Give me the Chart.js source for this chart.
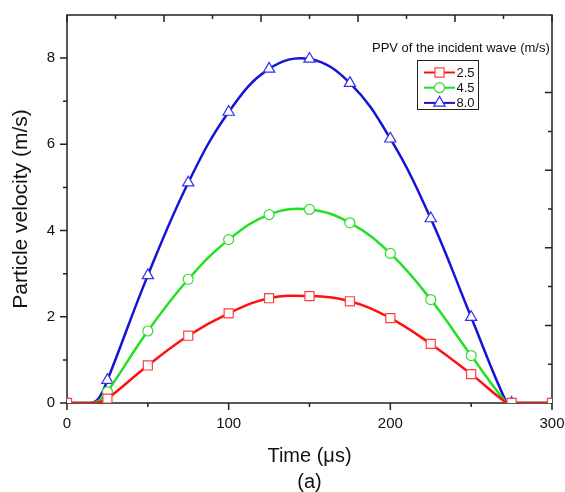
<!DOCTYPE html>
<html>
<head>
<meta charset="utf-8">
<script src="https://cdn.jsdelivr.net/npm/chart.js@4.4.1/dist/chart.umd.min.js"></script>
<style>
  html, body { margin: 0; padding: 0; background: #fff; }
</style>
</head>
<body>
<canvas id="chart" width="565" height="492"></canvas>
<script>
// time in microseconds; markers sit on the multiples of 25
var time   = [0, 15, 20, 25, 50, 75, 100, 125, 150, 175, 200, 225, 250, 272, 275, 300];
var ppv25  = [0, 0, 0.02, 0.10, 0.87, 1.56, 2.08, 2.43, 2.48, 2.36, 1.97, 1.37, 0.67, 0, 0, 0];
var ppv45  = [0, 0, 0.06, 0.26, 1.67, 2.87, 3.79, 4.37, 4.49, 4.18, 3.47, 2.40, 1.10, 0, 0, 0];
var ppv80  = [0, 0, 0.13, 0.53, 2.96, 5.11, 6.75, 7.75, 7.98, 7.42, 6.13, 4.28, 1.99, 0, 0, 0];
var seriesLabels = ['2.5', '4.5', '8.0'];
var legendTitle = 'PPV of the incident wave (m/s)';

// tick mark positions on the four sides of the frame
var bottomMarks = [0, 50, 100, 150, 200, 250, 300];
var leftMarks   = [0, 1, 2, 3, 4, 5, 6, 7, 8];
var topMarks    = [0, 30, 60, 90, 120, 150, 180, 210, 240, 270, 300];
var rightMarks  = [1, 2, 3, 4, 5, 6, 7, 8];

var FONT = '"Liberation Sans", Arial, Helvetica, sans-serif';
Chart.defaults.font.family = FONT;
Chart.defaults.color = '#111';

function makeSeries(label, values, lineColor, markColor, style, radius) {
  return {
    label: label,
    data: time.map(function (t, i) { return { x: t, y: values[i] }; }),
    borderColor: lineColor,
    borderWidth: 2.5,
    tension: 0.4,
    pointStyle: style,
    pointBackgroundColor: '#fff',
    pointBorderColor: markColor,
    pointBorderWidth: 1.2,
    pointRadius: function (c) {
      return c.raw && c.raw.x % 25 === 0 ? radius : 0;
    },
    pointHoverRadius: 0,
    markRadius: radius
  };
}

// keep the plot box fixed: no extra room for overhanging end labels
function noOverhang(s) {
  s.paddingLeft = 0; s.paddingRight = 0;
  s.paddingTop = 0; s.paddingBottom = 0;
}

var framePlugin = {
  id: 'frame',
  beforeDatasetsDraw: function (chart) {
    var ctx = chart.ctx, a = chart.chartArea, s = chart.scales;
    ctx.save();
    ctx.strokeStyle = '#222';
    ctx.lineWidth = 1.5;
    ctx.strokeRect(a.left, a.top, a.right - a.left, a.bottom - a.top);
    ctx.beginPath();
    bottomMarks.forEach(function (v) {
      var x = s.x.getPixelForValue(v);
      var len = v % 100 === 0 ? 7 : 4;
      ctx.moveTo(x, a.bottom); ctx.lineTo(x, a.bottom + len);
    });
    leftMarks.forEach(function (v) {
      var y = s.y.getPixelForValue(v);
      var len = v % 2 === 0 ? 7 : 4;
      ctx.moveTo(a.left, y); ctx.lineTo(a.left - len, y);
    });
    topMarks.forEach(function (v) {
      var x = s.xTop.getPixelForValue(v);
      var len = v % 60 === 0 ? 7 : 4;
      ctx.moveTo(x, a.top); ctx.lineTo(x, a.top + len);
    });
    rightMarks.forEach(function (v) {
      var y = s.yRight.getPixelForValue(v);
      var len = v % 2 === 0 ? 7 : 4;
      ctx.moveTo(a.right, y); ctx.lineTo(a.right - len, y);
    });
    ctx.stroke();
    ctx.restore();
  }
};

var legendPlugin = {
  id: 'boxLegend',
  afterDraw: function (chart) {
    var ctx = chart.ctx;
    ctx.save();
    ctx.font = '13px ' + FONT;
    ctx.fillStyle = '#111';
    ctx.textBaseline = 'alphabetic';
    ctx.fillText(legendTitle, 372, 52);
    ctx.strokeStyle = '#222';
    ctx.lineWidth = 1;
    ctx.strokeRect(417.5, 60.5, 61, 49);
    chart.data.datasets.forEach(function (ds, i) {
      var y = 72.5 + i * 15.2;
      ctx.strokeStyle = ds.borderColor;
      ctx.lineWidth = 2;
      ctx.beginPath();
      ctx.moveTo(424, y);
      ctx.lineTo(455, y);
      ctx.stroke();
      ctx.fillStyle = '#fff';
      ctx.strokeStyle = ds.pointBorderColor;
      ctx.lineWidth = 1.2;
      Chart.helpers.drawPoint(ctx, {
        pointStyle: ds.pointStyle, radius: ds.markRadius, rotation: 0, borderWidth: 1.2
      }, 439.5, y);
      ctx.fillStyle = '#111';
      ctx.fillText(ds.label, 456.5, y + 4.5);
    });
    ctx.restore();
  }
};

new Chart(document.getElementById('chart').getContext('2d'), {
  type: 'line',
  data: {
    datasets: [
      makeSeries(seriesLabels[0], ppv25, '#ff1010', '#ff4040', 'rect', 6.4),
      makeSeries(seriesLabels[1], ppv45, '#22e022', '#33dd33', 'circle', 5),
      makeSeries(seriesLabels[2], ppv80, '#1414d8', '#3030e8', 'triangle', 6.5)
    ]
  },
  options: {
    responsive: false,
    animation: false,
    devicePixelRatio: 1,
    layout: { padding: { top: 15, right: 13, left: 0, bottom: 0 } },
    plugins: { legend: { display: false }, tooltip: { enabled: false } },
    scales: {
      x: {
        type: 'linear', min: 0, max: 300,
        ticks: { stepSize: 100, padding: 12, font: { size: 15 }, color: '#111', maxRotation: 0 },
        grid: { display: false, drawTicks: false },
        border: { display: false },
        title: {
          display: true, text: ['Time (μs)', '(a)'], color: '#111',
          font: { size: 20, lineHeight: 1.325 }, padding: { top: 0, bottom: -4 }
        },
        afterFit: function (s) { s.height = 89; noOverhang(s); }
      },
      y: {
        type: 'linear', min: 0, max: 9,
        ticks: { stepSize: 2, includeBounds: false, padding: 12, font: { size: 15 }, color: '#111' },
        grid: { display: false, drawTicks: false },
        border: { display: false },
        title: {
          display: true, text: 'Particle velocity (m/s)', color: '#111',
          font: { size: 21 }, padding: { top: 9, bottom: 0 }
        },
        afterFit: function (s) { s.width = 67; noOverhang(s); }
      },
      xTop: { type: 'linear', position: 'top', display: false, min: 0, max: 300, afterFit: noOverhang },
      yRight: { type: 'linear', position: 'right', display: false, min: 0, max: 10, afterFit: noOverhang }
    }
  },
  plugins: [framePlugin, legendPlugin]
});
</script>
</body>
</html>
